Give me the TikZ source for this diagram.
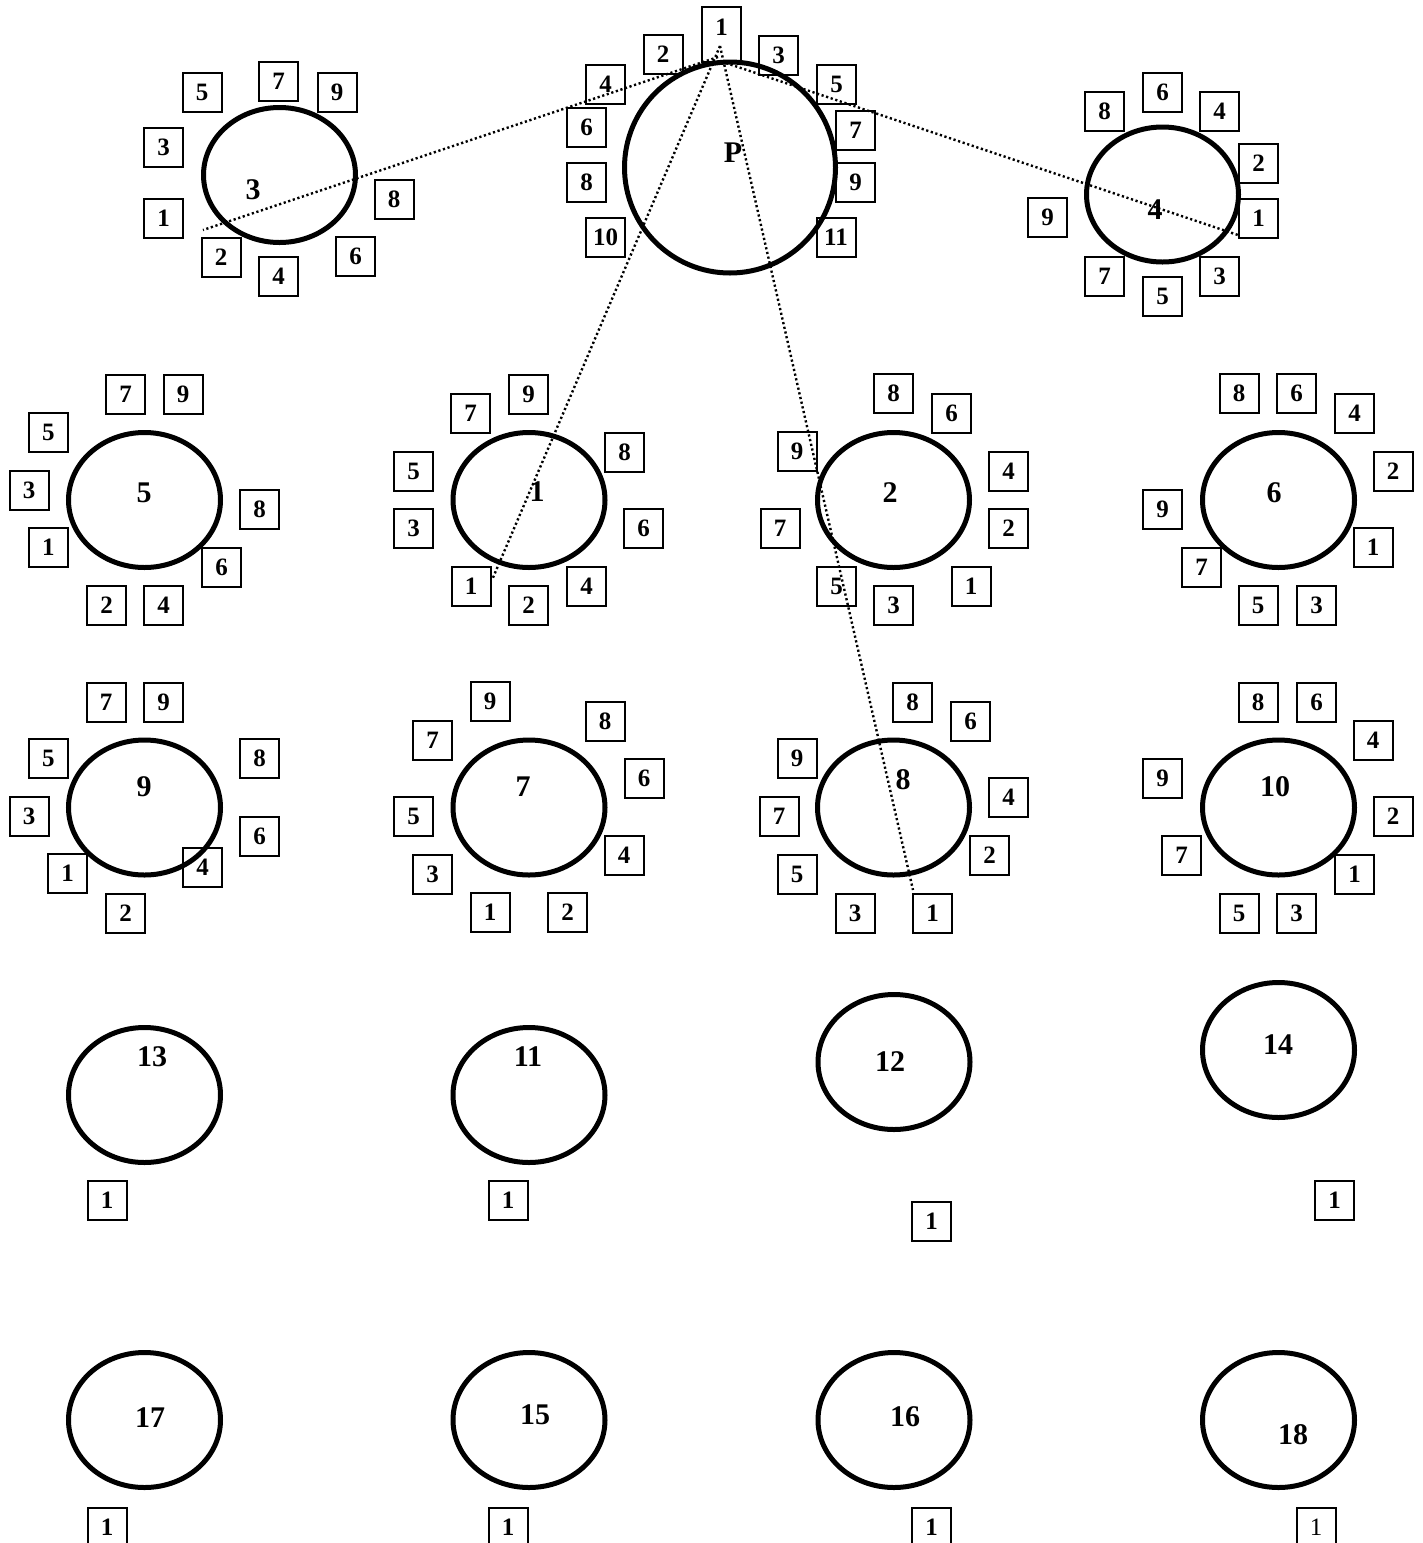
\documentclass[tikz,border=0pt]{standalone}
\usepackage{fontspec}
\setmainfont{Liberation Serif}
\usetikzlibrary{shapes.geometric}

\begin{document}
\begin{tikzpicture}[x=0.5pt,y=-0.5pt,inner sep=0pt,
  font=\fontsize{12.5}{14}\selectfont\bfseries,
  seat/.style={draw,line width=1pt,minimum size=19.5pt},
  tab/.style={draw,ellipse,line width=2.5pt,minimum width=76pt,minimum height=67.5pt},
  lbl/.style={font=\fontsize{15}{17}\selectfont\bfseries},
  link/.style={line width=1.2pt,dash pattern=on 1.1pt off 1.3pt}]
\useasboundingbox (0,0) rectangle (1423,1543);
% head table
\node[draw,circle,line width=2.5pt,minimum size=105.5pt] (tp) at (730,167.5) {};
\node[lbl] (tpl) at (733,153) {P};
\node[seat,minimum height=27.5pt] (tps1) at (721.5,34) {};
\node at (721.5,27) {1};
\node[seat] (tps2) at (663,54.5) {2};
\node[seat] (tps3) at (778.5,55) {3};
\node[seat] (tps4) at (605.5,84) {4};
\node[seat] (tps5) at (836.5,84) {5};
\node[seat] (tps6) at (586.5,127) {6};
\node[seat] (tps7) at (855.5,130) {7};
\node[seat] (tps8) at (586.5,182) {8};
\node[seat] (tps9) at (855.5,182) {9};
\node[seat] (tps10) at (605.5,237.5) {10};
\node[seat] (tps11) at (836,237.5) {11};
%
\node[tab] (t3) at (279.5,175) {};
\node[lbl] (t3l) at (253,190) {3};
\node[seat] (t3s1) at (163.5,218.5) {1};
\node[seat] (t3s2) at (221,257) {2};
\node[seat] (t3s3) at (163.5,147) {3};
\node[seat] (t3s4) at (278.5,276.5) {4};
\node[seat] (t3s5) at (202,92) {5};
\node[seat] (t3s6) at (355.5,256.5) {6};
\node[seat] (t3s7) at (278.5,81.5) {7};
\node[seat] (t3s8) at (394,199) {8};
\node[seat] (t3s9) at (337,92) {9};
%
\node[tab] (t4) at (1162.5,194.5) {};
\node[lbl] (t4l) at (1155,210) {4};
\node[seat] (t4s1) at (1258.5,218.5) {1};
\node[seat] (t4s2) at (1258.5,163) {2};
\node[seat] (t4s3) at (1219.5,276.5) {3};
\node[seat] (t4s4) at (1219.5,111) {4};
\node[seat] (t4s5) at (1162.5,296.5) {5};
\node[seat] (t4s6) at (1162.5,92) {6};
\node[seat] (t4s7) at (1104.5,276.5) {7};
\node[seat] (t4s8) at (1104.5,111) {8};
\node[seat] (t4s9) at (1047.5,217.5) {9};
%
\node[tab] (t5) at (144.5,500) {};
\node[lbl] (t5l) at (144,493) {5};
\node[seat] (t5s1) at (48.5,547.5) {1};
\node[seat] (t5s2) at (106.5,605.5) {2};
\node[seat] (t5s3) at (29,490.5) {3};
\node[seat] (t5s4) at (163.5,605.5) {4};
\node[seat] (t5s5) at (48.5,432.5) {5};
\node[seat] (t5s6) at (221.5,567.5) {6};
\node[seat] (t5s7) at (125.5,394) {7};
\node[seat] (t5s8) at (259.5,509) {8};
\node[seat] (t5s9) at (183,394) {9};
%
\node[tab] (t1) at (529,500) {};
\node[lbl] (t1l) at (537,492) {1};
\node[seat] (t1s1) at (471,586) {1};
\node[seat] (t1s2) at (528.5,605.5) {2};
\node[seat] (t1s3) at (413.5,528.5) {3};
\node[seat] (t1s4) at (586.5,586) {4};
\node[seat] (t1s5) at (413.5,471) {5};
\node[seat] (t1s6) at (643.5,528.5) {6};
\node[seat] (t1s7) at (470.5,413.5) {7};
\node[seat] (t1s8) at (624.5,452) {8};
\node[seat] (t1s9) at (528.5,394) {9};
%
\node[tab] (t2) at (893.5,500) {};
\node[lbl] (t2l) at (890,493) {2};
\node[seat] (t2s1) at (971,586) {1};
\node[seat] (t2s2) at (1008.5,528.5) {2};
\node[seat] (t2s3) at (893.5,605.5) {3};
\node[seat] (t2s4) at (1008.5,471.5) {4};
\node[seat] (t2s5) at (836.5,586) {5};
\node[seat] (t2s6) at (951.5,413.5) {6};
\node[seat] (t2s7) at (780,528.5) {7};
\node[seat] (t2s8) at (893.5,393.5) {8};
\node[seat] (t2s9) at (797,451.5) {9};
%
\node[tab] (t6) at (1278.5,500) {};
\node[lbl] (t6l) at (1274,493) {6};
\node[seat] (t6s1) at (1373,547.5) {1};
\node[seat] (t6s2) at (1393,471) {2};
\node[seat] (t6s3) at (1316.5,605.5) {3};
\node[seat] (t6s4) at (1354.5,413.5) {4};
\node[seat] (t6s5) at (1258,605.5) {5};
\node[seat] (t6s6) at (1296.5,393.5) {6};
\node[seat] (t6s7) at (1201.5,567.5) {7};
\node[seat] (t6s8) at (1239,393.5) {8};
\node[seat] (t6s9) at (1162.5,509.5) {9};
%
\node[tab] (t9) at (144.5,807.5) {};
\node[lbl] (t9l) at (144,787) {9};
\node[seat] (t9s1) at (67.5,873.5) {1};
\node[seat] (t9s2) at (125.5,913) {2};
\node[seat] (t9s3) at (29,816.5) {3};
\node[seat] (t9s4) at (202.5,867.5) {4};
\node[seat] (t9s5) at (48.5,758.5) {5};
\node[seat] (t9s6) at (259.5,836.5) {6};
\node[seat] (t9s7) at (106,702) {7};
\node[seat] (t9s8) at (259.5,758.5) {8};
\node[seat] (t9s9) at (163.5,702) {9};
%
\node[tab] (t7) at (529,807.5) {};
\node[lbl] (t7l) at (523,787) {7};
\node[seat] (t7s1) at (490,912.5) {1};
\node[seat] (t7s2) at (567.5,912.5) {2};
\node[seat] (t7s3) at (432.5,874) {3};
\node[seat] (t7s4) at (624,855) {4};
\node[seat] (t7s5) at (413.5,816.5) {5};
\node[seat] (t7s6) at (644,778.5) {6};
\node[seat] (t7s7) at (432.5,740) {7};
\node[seat] (t7s8) at (605,721.5) {8};
\node[seat] (t7s9) at (490,701.5) {9};
%
\node[tab] (t8) at (893.5,807.5) {};
\node[lbl] (t8l) at (903,780) {8};
\node[seat] (t8s1) at (932.5,913) {1};
\node[seat] (t8s2) at (989.5,855) {2};
\node[seat] (t8s3) at (855,913) {3};
\node[seat] (t8s4) at (1008.5,797.5) {4};
\node[seat] (t8s5) at (797,874) {5};
\node[seat] (t8s6) at (970.5,721.5) {6};
\node[seat] (t8s7) at (779,816.5) {7};
\node[seat] (t8s8) at (912.5,702) {8};
\node[seat] (t8s9) at (797,758.5) {9};
%
\node[tab] (t10) at (1278.5,807.5) {};
\node[lbl] (t10l) at (1275,787) {10};
\node[seat] (t10s1) at (1354.5,874) {1};
\node[seat] (t10s2) at (1393,816.5) {2};
\node[seat] (t10s3) at (1296.5,913) {3};
\node[seat] (t10s4) at (1373,740) {4};
\node[seat] (t10s5) at (1239,913) {5};
\node[seat] (t10s6) at (1316.5,702) {6};
\node[seat] (t10s7) at (1181.5,855) {7};
\node[seat] (t10s8) at (1258,702) {8};
\node[seat] (t10s9) at (1162.5,778) {9};
% small tables
\node[tab] (t13) at (144.5,1095) {};
\node[lbl] (t13l) at (152,1057) {13};
\node[seat] (t13s1) at (107,1200) {1};
\node[tab] (t11) at (529,1095) {};
\node[lbl] (t11l) at (528,1057) {11};
\node[seat] (t11s1) at (508,1200) {1};
\node[tab] (t12) at (894,1062) {};
\node[lbl] (t12l) at (890,1062) {12};
\node[seat] (t12s1) at (931.5,1221) {1};
\node[tab] (t14) at (1278.5,1050) {};
\node[lbl] (t14l) at (1278,1045) {14};
\node[seat] (t14s1) at (1334.5,1200) {1};
%
\node[tab] (t17) at (144.5,1420) {};
\node[lbl] (t17l) at (150,1418) {17};
\node[seat] (t17s1) at (107,1527) {1};
\node[tab] (t15) at (529,1420) {};
\node[lbl] (t15l) at (535,1415) {15};
\node[seat] (t15s1) at (508,1527) {1};
\node[tab] (t16) at (894,1420) {};
\node[lbl] (t16l) at (905,1417) {16};
\node[seat] (t16s1) at (931.5,1527) {1};
\node[tab] (t18) at (1278.5,1420) {};
\node[lbl] (t18l) at (1293,1435) {18};
\node[seat,font=\fontsize{12.5}{14}\selectfont\mdseries] (t18s1) at (1316,1527) {1};
% dotted links
\coordinate (pa) at (720,46);
\coordinate (pl) at (718,57);
\coordinate (pr) at (726,63);
\coordinate (e3) at (203,230);
\coordinate (e4) at (1238,235);
\coordinate (e1) at (492,580);
\coordinate (e8) at (913,890);
\draw[link] (pl) -- (e3);
\draw[link] (pr) -- (e4);
\draw[link] (pa) -- (e1);
\draw[link] (pa) -- (e8);
\end{tikzpicture}
\end{document}
